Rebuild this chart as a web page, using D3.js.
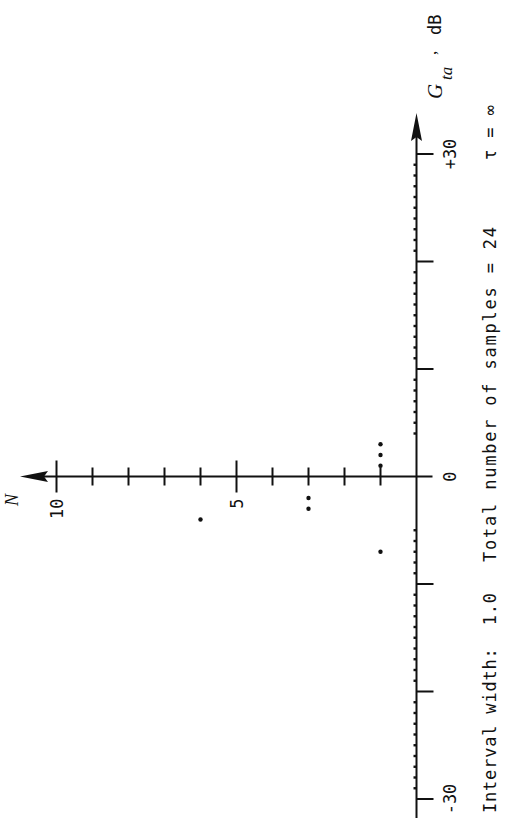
<!DOCTYPE html>
<html><head><meta charset="utf-8">
<script src="https://cdn.jsdelivr.net/npm/d3@7"></script>
<style>html,body{margin:0;padding:0;background:#fff;} svg{display:block}</style>
</head><body>
<script>
// ---- data ----
const gainValues  = [-7, -4, -3, -2, 1, 2, 3];
const countValues = [ 1,  6,  3,  3, 1, 1, 1];
const gainMajorTicks = [-30, -20, -10, 10, 20, 30];
const gainLabelValues = [-30, 0, 30];
const gainLabelTexts  = ["-30", "0", "+30"];
const gainMinorRanges = [[-29, -5], [4, 29]];
const countTicks = [1, 2, 3, 4, 5, 6, 7, 8, 9, 10];
const countMajorTicks = [5, 10];
const countLabelValues = [5, 10];
const noteTexts = ["Interval width:  1.0", "Total number of samples = 24", "τ = ∞"];

const W = 505, H = 823;
const svg = d3.select("body").append("svg").attr("width", W).attr("height", H);
svg.append("rect").attr("width", W).attr("height", H).attr("fill", "#fff");

// the chart is drawn in landscape coordinates and rotated a quarter turn
const g = svg.append("g").attr("transform", `translate(0,${H}) rotate(-90)`);
const x = d3.scaleLinear().domain([-30, 30]).range([24, 669]);
const y = d3.scaleLinear().domain([0, 10]).range([416.5, 56.5]);
const x0 = x(0), y0 = y(0);
const ink = "#111";
const mono = "'DejaVu Sans Mono', 'Liberation Mono', monospace";
const serif = "'Liberation Serif', 'DejaVu Serif', serif";

// G axis
g.append("line").attr("x1", 5).attr("x2", 690).attr("y1", y0).attr("y2", y0)
  .attr("stroke", ink).attr("stroke-width", 2);
g.append("path").attr("d", `M710,${y0} L682,${y0-5.5} L686,${y0} L682,${y0+5.5} Z`).attr("fill", ink);

// minor ticks (small bumps)
const minor = [];
gainMinorRanges.forEach(([a, b]) => d3.range(a, b + 1).forEach(v => { if (v % 10 !== 0) minor.push(v); }));
g.selectAll(".mn").data(minor).join("line")
  .attr("x1", d => x(d)).attr("x2", d => x(d)).attr("y1", y0).attr("y2", y0 - 3)
  .attr("stroke", ink).attr("stroke-width", 2.4);
// major ticks
g.selectAll(".mj").data(gainMajorTicks).join("line")
  .attr("x1", d => x(d)).attr("x2", d => x(d)).attr("y1", y0).attr("y2", y0 + 17)
  .attr("stroke", ink).attr("stroke-width", 2);
g.selectAll(".gl").data(gainLabelValues).join("text")
  .attr("x", d => x(d)).attr("y", y0 + 39).attr("text-anchor", "middle")
  .attr("font-family", mono).attr("font-size", 17).attr("fill", ink)
  .text((d, i) => gainLabelTexts[i]);

// N axis
g.append("line").attr("x1", x0).attr("x2", x0).attr("y1", y0 + 16).attr("y2", 40)
  .attr("stroke", ink).attr("stroke-width", 2);
g.append("path").attr("d", `M${x0},20 L${x0-5.5},48 L${x0},44 L${x0+5.5},48 Z`).attr("fill", ink);
g.selectAll(".nt").data(countTicks).join("line")
  .attr("x1", d => x0 - (countMajorTicks.includes(d) ? 16 : 9))
  .attr("x2", d => x0 + (countMajorTicks.includes(d) ? 16 : 9))
  .attr("y1", d => y(d)).attr("y2", d => y(d))
  .attr("stroke", ink).attr("stroke-width", 2);
g.selectAll(".nl").data(countLabelValues).join("text")
  .attr("x", x0 - 22).attr("y", d => y(d)).attr("dy", "0.36em").attr("text-anchor", "end")
  .attr("font-family", mono).attr("font-size", 17).attr("fill", ink).text(d => d);

// data points
g.selectAll(".pt").data(gainValues).join("circle")
  .attr("cx", d => x(d)).attr("cy", (d, i) => y(countValues[i])).attr("r", 2.2).attr("fill", ink);

// axis titles
g.append("text").attr("x", 323).attr("y", 18).attr("text-anchor", "middle")
  .attr("font-family", serif).attr("font-style", "italic").attr("font-size", 18).attr("fill", ink).text("N");
g.append("text").attr("x", 724).attr("y", 442)
  .attr("font-family", serif).attr("font-style", "italic").attr("font-size", 21).attr("fill", ink).text("G");
g.append("text").attr("x", 743).attr("y", 452)
  .attr("font-family", serif).attr("font-style", "italic").attr("font-size", 17).attr("fill", ink).text("ta");
g.append("text").attr("x", 768).attr("y", 436)
  .attr("font-family", serif).attr("font-size", 17).attr("fill", ink).text(",");
g.append("text").attr("x", 788).attr("y", 441)
  .attr("font-family", mono).attr("font-size", 17).attr("fill", ink).text("dB");

// notes
const noteX = [10, 261, 663], noteLen = [220, 335, 55];
g.selectAll(".note").data(noteTexts).join("text")
  .attr("x", (d, i) => noteX[i]).attr("y", 496)
  .attr("textLength", (d, i) => noteLen[i]).attr("lengthAdjust", "spacing")
  .style("white-space", "pre")
  .attr("font-family", mono).attr("font-size", 17).attr("fill", ink).text(d => d);
</script>
</body></html>
